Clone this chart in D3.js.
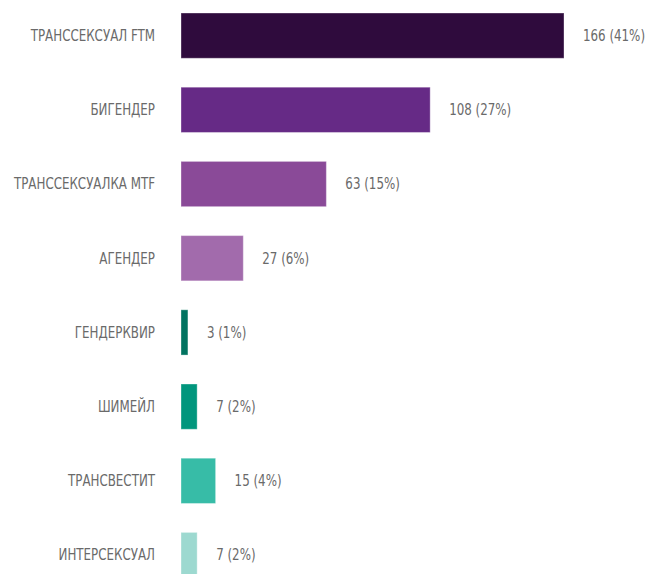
<!DOCTYPE html>
<html>
<head>
<meta charset="utf-8">
<script src="https://cdn.jsdelivr.net/npm/d3@7"></script>
<style>
  html, body { margin: 0; padding: 0; background: #fff; }
  svg { display: block; }
  text { font-family: "DejaVu Sans Condensed", "Liberation Sans Narrow", sans-serif; font-stretch: condensed; fill: #6a6a6a; }
</style>
</head>
<body>
<svg id="chart" width="648" height="574"></svg>
<script>
const categories = ["ТРАНССЕКСУАЛ FTM", "БИГЕНДЕР", "ТРАНССЕКСУАЛКА MTF", "АГЕНДЕР", "ГЕНДЕРКВИР", "ШИМЕЙЛ", "ТРАНСВЕСТИТ", "ИНТЕРСЕКСУАЛ"];
const counts = [166, 108, 63, 27, 3, 7, 15, 7];
const percents = [41, 27, 15, 6, 1, 2, 4, 2];
const palette = ["#2f0b3d", "#662a86", "#8a4a98", "#a26bac", "#017360", "#01967d", "#37bca7", "#9dd9d0"];

const data = categories.map((c, i) => ({ cat: c, value: counts[i], pct: percents[i], color: palette[i] }));

const svg = d3.select("#chart");
const step = 74.2, pIn = 0.39;
const y0 = 13 - step * pIn / 2;
const y = d3.scaleBand().domain(categories).range([y0, y0 + step * categories.length]).paddingInner(pIn).paddingOuter(pIn / 2);
const x = d3.scaleLinear().domain([0, 166]).range([181, 564]);
const sx = 0.88;

svg.selectAll("rect.bar").data(data).join("rect")
  .attr("class", "bar")
  .attr("x", x(0))
  .attr("y", d => y(d.cat))
  .attr("width", d => x(d.value) - x(0))
  .attr("height", y.bandwidth())
  .attr("fill", d => d.color)
  .attr("stroke", "rgba(255,255,255,0.35)")
  .attr("stroke-width", 1);

svg.selectAll("text.cat").data(data).join("text")
  .attr("class", "cat")
  .attr("transform", d => `translate(155,${y(d.cat) + y.bandwidth() / 2}) scale(${sx},1)`)
  .attr("dy", "0.36em")
  .attr("text-anchor", "end")
  .style("font-size", "15px")
  .text(d => d.cat);

svg.selectAll("text.val").data(data).join("text")
  .attr("class", "val")
  .attr("transform", d => `translate(${x(d.value) + 19},${y(d.cat) + y.bandwidth() / 2}) scale(${sx},1)`)
  .attr("dy", "0.36em")
  .style("font-size", "15px")
  .text(d => `${d.value} (${d.pct}%)`);
</script>
</body>
</html>
